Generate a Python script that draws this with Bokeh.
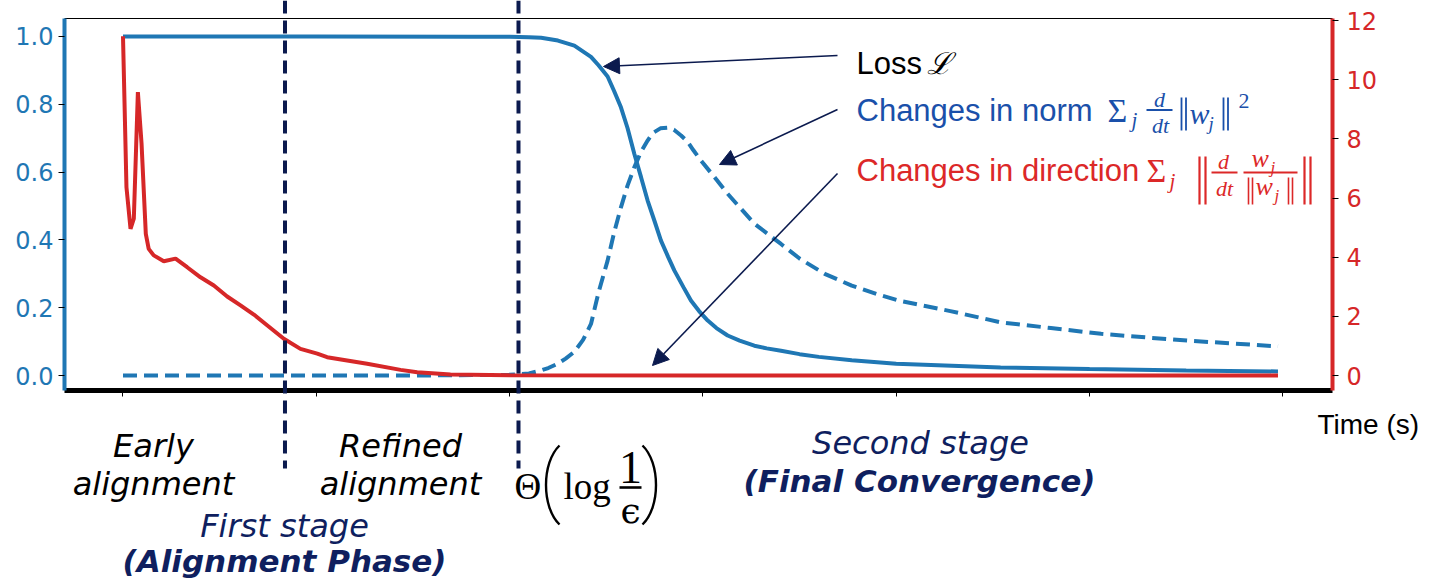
from bokeh.plotting import figure
from bokeh.models import (Range1d, LinearAxis, FixedTicker, PrintfTickFormatter,
                          Label, Arrow, NormalHead)
from bokeh.embed import file_html
from bokeh.resources import INLINE

# ---- data -------------------------------------------------------------
# Loss L (left axis, normalised)
time_loss = [0.0, 1.0, 1.8, 2.0, 2.1, 2.163, 2.25, 2.335, 2.421, 2.46, 2.507, 2.54,
             2.576, 2.61, 2.645, 2.68, 2.714, 2.75, 2.783, 2.82, 2.852, 2.9, 2.938,
             2.98, 3.025, 3.07, 3.128, 3.19, 3.266, 3.33, 3.404, 3.5, 3.6, 3.77,
             4.0, 4.54, 5.0, 5.5, 5.975]
loss = [1.0, 1.0, 0.9995, 0.999, 0.998, 0.996, 0.988, 0.973, 0.94, 0.915, 0.882,
        0.84, 0.791, 0.73, 0.654, 0.585, 0.516, 0.455, 0.398, 0.35, 0.31, 0.26,
        0.221, 0.19, 0.162, 0.14, 0.118, 0.103, 0.088, 0.08, 0.073, 0.063, 0.055,
        0.045, 0.035, 0.024, 0.019, 0.015, 0.012]

# Changes in norm (left axis, normalised)
time_norm = [0.0, 1.5, 2.0, 2.1, 2.163, 2.2, 2.25, 2.29, 2.335, 2.38, 2.421, 2.46,
             2.507, 2.54, 2.576, 2.61, 2.645, 2.68, 2.714, 2.74, 2.78, 2.82, 2.85,
             2.887, 2.92, 2.95, 2.99, 3.06, 3.128, 3.2, 3.266, 3.33, 3.404, 3.5,
             3.63, 3.77, 3.9, 4.02, 4.15, 4.28, 4.54, 4.8, 5.06, 5.3, 5.51, 5.75,
             5.975]
norm_change = [0.0, 0.0, 0.002, 0.006, 0.015, 0.022, 0.035, 0.05, 0.07, 0.105,
               0.152, 0.245, 0.339, 0.42, 0.496, 0.56, 0.614, 0.66, 0.693, 0.715,
               0.729, 0.731, 0.725, 0.708, 0.69, 0.665, 0.634, 0.585, 0.536, 0.49,
               0.448, 0.42, 0.388, 0.345, 0.30, 0.265, 0.24, 0.22, 0.205, 0.19,
               0.157, 0.14, 0.123, 0.112, 0.103, 0.094, 0.086]

# Changes in direction (right axis)
time_dir = [0.0, 0.018, 0.039, 0.056, 0.077, 0.096, 0.118, 0.133, 0.159, 0.211,
            0.272, 0.332, 0.401, 0.47, 0.539, 0.608, 0.677, 0.747, 0.832, 0.918,
            1.005, 1.056, 1.263, 1.436, 1.522, 1.694, 2.0, 3.0, 5.975]
dir_change = [11.47, 6.36, 4.96, 5.3, 9.58, 7.84, 4.79, 4.28, 4.06, 3.86, 3.95,
              3.66, 3.32, 3.04, 2.67, 2.37, 2.06, 1.69, 1.24, 0.9, 0.74, 0.62,
              0.4, 0.19, 0.11, 0.03, 0.005, 0.0, 0.0]

time_ticks = [0, 1, 2, 3, 4, 5, 6]
left_ticks = [0.0, 0.2, 0.4, 0.6, 0.8, 1.0]
right_ticks = [0, 2, 4, 6, 8, 10, 12]
stage_bounds = [0.838, 2.046]

# ---- styling ------------------------------------------------------------
BLUE = "#1f77b4"
RED = "#d62728"
NAVY = "#0b1a4e"
NAVY_TEXT = "#0f1f5f"
LEG_BLUE = "#1a50aa"
LEG_RED = "#dc2828"

W, H = 1435, 582
FL, FR, FT, FB = 64, 1332, 18, 390          # axes box in canvas pixels
X0, X1 = -0.3026, 6.257                     # time shown across the axes box
Y0, Y1 = -0.0442, 1.053                     # left scale across the axes box
R0, R1 = -0.507, 12.068                     # right scale across the axes box


def dx(px):
    return X0 + (px - FL) / (FR - FL) * (X1 - X0)


def dy(py):
    return Y0 + (FB - py) / (FB - FT) * (Y1 - Y0)


def dr(py):
    return R0 + (FB - py) / (FB - FT) * (R1 - R0)


# the plotting area spans the whole canvas so that captions below the
# axes box and the stage separators can run outside it
p = figure(width=W, height=H, x_range=Range1d(dx(0), dx(W)),
           y_range=Range1d(dy(H), dy(0)),
           output_backend="svg", toolbar_location=None,
           min_border=0, min_border_left=0, min_border_right=0,
           min_border_top=0, min_border_bottom=0)
p.extra_y_ranges = {"dir": Range1d(dr(H), dr(0))}
p.xgrid.visible = False
p.ygrid.visible = False
p.outline_line_color = None
p.background_fill_color = "white"
p.border_fill_color = "white"

# bottom axis: ticks only
xa = p.xaxis[0]
xa.fixed_location = Y0
xa.bounds = (X0, X1)
xa.ticker = FixedTicker(ticks=time_ticks)
xa.major_label_overrides = {t: "" for t in time_ticks}
xa.axis_line_color = "black"
xa.axis_line_width = 5
xa.major_tick_line_color = "black"
xa.major_tick_in = 0
xa.major_tick_out = 6
xa.minor_tick_line_color = None

# top edge of the axes box
ta = LinearAxis(fixed_location=Y1, bounds=(X0, X1), ticker=FixedTicker(ticks=[]))
ta.axis_line_color = "black"
ta.axis_line_width = 1.2
ta.major_tick_line_color = None
ta.minor_tick_line_color = None
p.add_layout(ta, "above")

# left axis
ya = p.yaxis[0]
ya.fixed_location = X0
ya.bounds = (Y0, Y1)
ya.ticker = FixedTicker(ticks=left_ticks)
ya.formatter = PrintfTickFormatter(format="%.1f")
ya.axis_line_color = BLUE
ya.axis_line_width = 4
ya.major_tick_line_color = "black"
ya.major_tick_in = 0
ya.major_tick_out = 6
ya.minor_tick_line_color = None
ya.major_label_text_color = BLUE
ya.major_label_text_font = "DejaVu Sans"
ya.major_label_text_font_size = "24px"
ya.major_label_standoff = 5

# right axis
ra = LinearAxis(y_range_name="dir", ticker=FixedTicker(ticks=right_ticks),
                fixed_location=X1, bounds=(R0, R1))
ra.axis_line_color = RED
ra.axis_line_width = 4
ra.major_tick_line_color = "black"
ra.major_tick_in = 0
ra.major_tick_out = 6
ra.minor_tick_line_color = None
ra.major_label_text_color = RED
ra.major_label_text_font = "DejaVu Sans"
ra.major_label_text_font_size = "24px"
ra.major_label_standoff = 8
p.add_layout(ra, "right")

# ---- curves -------------------------------------------------------------
p.line(time_norm, norm_change, line_color=BLUE, line_width=4, line_dash="14 7")
p.line(time_loss, loss, line_color=BLUE, line_width=4)
p.line(time_dir, dir_change, line_color=RED, line_width=4, y_range_name="dir")

# stage boundaries, running past the axes box into the caption area
for tb in stage_bounds:
    p.add_layout(Arrow(end=None, x_start=tb, y_start=dy(0), x_end=tb, y_end=dy(468),
                       line_color=NAVY, line_width=4, line_dash="13 7"))

# ---- annotation arrows ----------------------------------------------------
for (sx, sy, ex, ey) in [(837, 55, 603, 66), (837, 109, 719, 164), (837, 173, 652, 365)]:
    p.add_layout(Arrow(end=NormalHead(size=16, fill_color=NAVY, line_color=NAVY),
                       x_start=dx(sx), y_start=dy(sy), x_end=dx(ex), y_end=dy(ey),
                       line_color=NAVY, line_width=1.6))


def text(s, px, base, size, color="black", font="Liberation Sans", style="normal",
         align="left"):
    # base is the baseline in canvas pixels; labels are centred on the em box
    p.add_layout(Label(x=dx(px), y=dy(base - 0.3 * size), text=s, text_font=font,
                       text_font_size=f"{size}px", text_color=color,
                       text_font_style=style, text_align=align,
                       text_baseline="middle"))


def rule(x0, x1, py, color, width=2.0):
    p.add_layout(Arrow(end=None, x_start=dx(x0), y_start=dy(py), x_end=dx(x1),
                       y_end=dy(py), line_color=color, line_width=width))


def vbar(px, y0, y1, color, width=1.8):
    p.add_layout(Arrow(end=None, x_start=dx(px), y_start=dy(y0), x_end=dx(px),
                       y_end=dy(y1), line_color=color, line_width=width))


def paren(x_end, x_bulge, y_top, y_bot, width=2.4):
    # tall round bracket as a cubic curve
    yt, yb = dy(y_top), dy(y_bot)
    yc0 = dy(y_top + (y_bot - y_top) * 0.22)
    yc1 = dy(y_top + (y_bot - y_top) * 0.78)
    p.bezier(x0=[dx(x_end)], y0=[yt], x1=[dx(x_end)], y1=[yb],
             cx0=[dx(x_bulge)], cy0=[yc0], cx1=[dx(x_bulge)], cy1=[yc1],
             line_color="black", line_width=width)


SERIF = "Liberation Serif"

# legend-like labels
text("Loss", 856, 72, 31)
text("ℒ", 926, 72, 30, font="DejaVu Serif", style="italic")

text("Changes in norm", 856, 119, 31, LEG_BLUE)
text("Σ", 1107, 120, 34, LEG_BLUE, SERIF)
text("j", 1131, 126, 21, LEG_BLUE, SERIF, "italic")
text("d", 1159, 106, 22, LEG_BLUE, SERIF, "italic", "center")
rule(1146, 1172, 109.5, LEG_BLUE)
text("dt", 1160, 132, 22, LEG_BLUE, SERIF, "italic", "center")
vbar(1181, 97, 130, LEG_BLUE)
vbar(1185.5, 97, 130, LEG_BLUE)
text("w", 1189, 122, 30, LEG_BLUE, SERIF, "italic")
text("j", 1208, 129, 19, LEG_BLUE, SERIF, "italic")
vbar(1223, 97, 130, LEG_BLUE)
vbar(1227.5, 97, 130, LEG_BLUE)
text("2", 1238, 107, 22, LEG_BLUE, SERIF)

text("Changes in direction", 856, 179, 31, LEG_RED)
text("Σ", 1146, 180, 34, LEG_RED, SERIF)
text("j", 1169, 187, 21, LEG_RED, SERIF, "italic")
vbar(1199, 156, 204, LEG_RED, 2.2)
vbar(1205, 156, 204, LEG_RED, 2.2)
text("d", 1223, 168, 22, LEG_RED, SERIF, "italic", "center")
rule(1211, 1237, 172, LEG_RED)
text("dt", 1224, 195, 22, LEG_RED, SERIF, "italic", "center")
text("w", 1251, 166, 26, LEG_RED, SERIF, "italic")
text("j", 1270, 172, 17, LEG_RED, SERIF, "italic")
rule(1243, 1297, 172, LEG_RED)
vbar(1248, 177, 204, LEG_RED, 1.6)
vbar(1252, 177, 204, LEG_RED, 1.6)
text("w", 1255, 194, 26, LEG_RED, SERIF, "italic")
text("j", 1274, 200, 17, LEG_RED, SERIF, "italic")
vbar(1288, 177, 204, LEG_RED, 1.6)
vbar(1292, 177, 204, LEG_RED, 1.6)
vbar(1304, 156, 204, LEG_RED, 2.2)
vbar(1310, 156, 204, LEG_RED, 2.2)

# axis title
text("Time (s)", 1317, 432, 28)

# phase captions
CAP = "DejaVu Sans"
text("Early", 153, 455, 32, "black", CAP, "italic", "center")
text("alignment", 153, 493, 32, "black", CAP, "italic", "center")
text("Refined", 400, 455, 32, "black", CAP, "italic", "center")
text("alignment", 400, 493, 32, "black", CAP, "italic", "center")
text("First stage", 284, 535, 32, NAVY_TEXT, CAP, "italic", "center")
text("(Alignment Phase)", 284, 570, 31, NAVY_TEXT, CAP, "bold italic", "center")
text("Second stage", 920, 452, 32, NAVY_TEXT, CAP, "italic", "center")
text("(Final Convergence)", 919, 490, 31, NAVY_TEXT, CAP, "bold italic", "center")

# Θ(log 1/ϵ)
text("Θ", 514, 497, 37, "black", SERIF)
paren(559, 541, 445, 524)
text("log", 563, 497, 37, "black", SERIF)
text("1", 630, 481, 46, "black", SERIF, "normal", "center")
rule(619, 641, 487, "black", 2.6)
text("ϵ", 630, 521, 36, "black", "DejaVu Serif", "normal", "center")
paren(642, 660, 445, 524)

open("out.html", "w").write(file_html(p, INLINE))
